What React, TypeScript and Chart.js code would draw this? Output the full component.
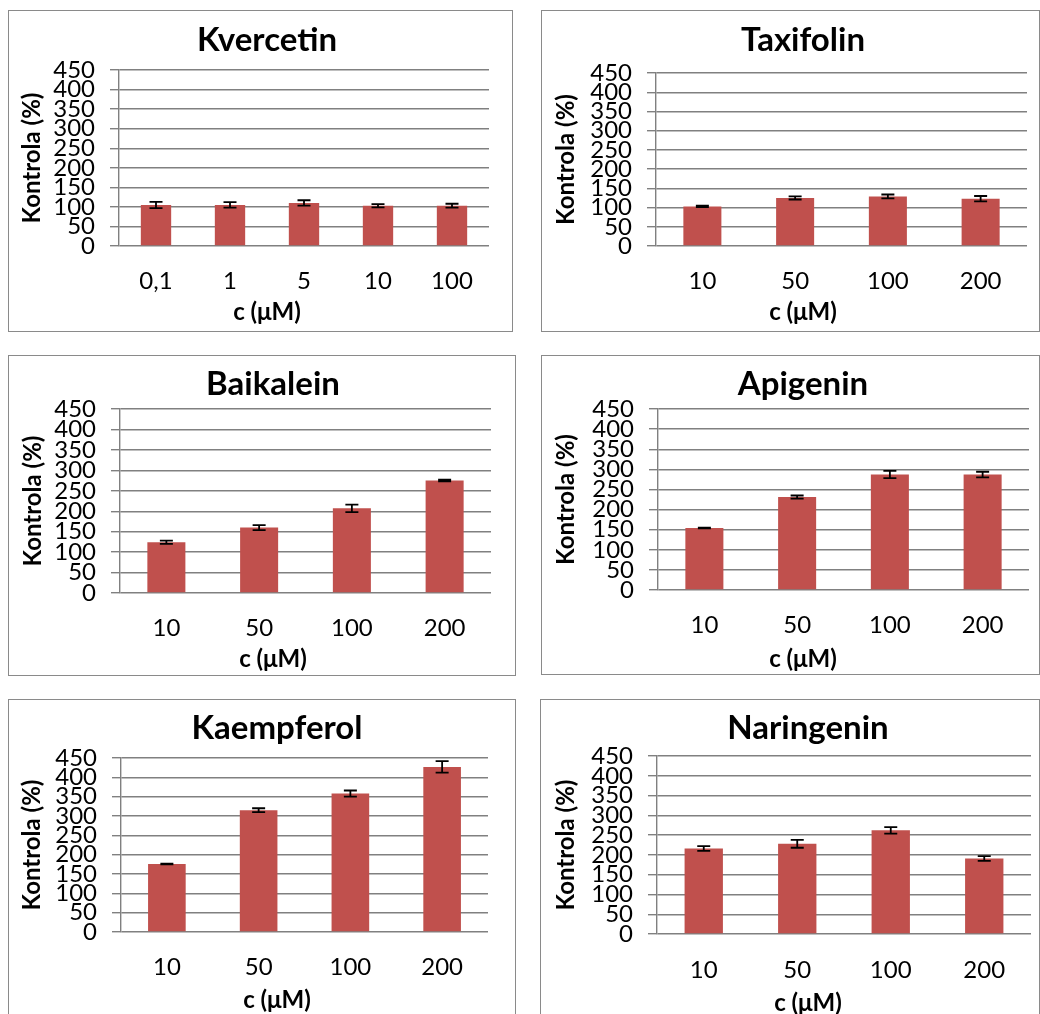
import React, { useEffect, useRef } from 'react';
import { Chart, registerables } from 'chart.js';

Chart.register(...registerables);

// ---------- data ----------
const yMin = 0;
const yMax = 450;
const yStep = 50;
const xAxisTitle = 'c (μM)';
const yAxisTitle = 'Kontrola (%)';

const kvercetinCategories = ['0,1', '1', '5', '10', '100'];
const kvercetinValues = [105, 105, 110, 103, 103];
const kvercetinErrors = [8, 7, 7, 4, 5];

const concCategories = ['10', '50', '100', '200'];

const taxifolinValues = [103, 125, 129, 123];
const taxifolinErrors = [2, 4, 5, 7];

const baikaleinValues = [124, 160, 207, 275];
const baikaleinErrors = [4, 6, 9, 2];

const apigeninValues = [154, 231, 287, 287];
const apigeninErrors = [1, 4, 9, 7];

const kaempferolValues = [176, 315, 358, 427];
const kaempferolErrors = [1, 5, 8, 15];

const naringeninValues = [216, 228, 262, 191];
const naringeninErrors = [6, 10, 8, 6];

// ---------- styles / layout ----------
const FONT = 'Lato, "Open Sans", sans-serif';
const TITLE_SIZE = 33;
const TICK_SIZE = 24;
const AXIS_SIZE = 24;
const LH = 1.2;
const LH_T = TITLE_SIZE * LH;
const LH_TICK = TICK_SIZE * LH;
const LH_AX = AXIS_SIZE * LH;
const BAR_COLOR = '#C0504D';
const GRID_COLOR = '#808080';
const BORDER_COLOR = '#8a8a8a';

type Layout = {
  box: number[]; // L, T, R, B (outer border)
  area: number[]; // L, T, R, B (chart area)
  titleX: number;
  titleY: number;
  yTitleX: number;
  tickY: number;
  xTitleY: number;
};

const layouts: Layout[] = [
  { box: [8, 10, 512, 331], area: [119, 70, 489, 246], titleX: 267, titleY: 40, yTitleX: 32, tickY: 281, xTitleY: 312 },
  { box: [541, 10, 1039, 331], area: [656, 73, 1027, 246], titleX: 803, titleY: 40, yTitleX: 566, tickY: 281, xTitleY: 312 },
  { box: [8, 355, 515, 675], area: [120, 409, 491, 593], titleX: 273, titleY: 384, yTitleX: 33, tickY: 628, xTitleY: 659 },
  { box: [541, 355, 1039, 674], area: [658, 409, 1029, 590], titleX: 803, titleY: 384, yTitleX: 566, tickY: 625, xTitleY: 659 },
  { box: [8, 699, 515, 1100], area: [121, 758, 488, 932], titleX: 277, titleY: 728, yTitleX: 32, tickY: 967, xTitleY: 1000 },
  { box: [540, 699, 1039, 1100], area: [657, 756, 1031, 934], titleX: 808, titleY: 728, yTitleX: 566, tickY: 970, xTitleY: 1003 },
];

const panels = [
  { title: 'Kvercetin', categories: kvercetinCategories, values: kvercetinValues, errors: kvercetinErrors },
  { title: 'Taxifolin', categories: concCategories, values: taxifolinValues, errors: taxifolinErrors },
  { title: 'Baikalein', categories: concCategories, values: baikaleinValues, errors: baikaleinErrors },
  { title: 'Apigenin', categories: concCategories, values: apigeninValues, errors: apigeninErrors },
  { title: 'Kaempferol', categories: concCategories, values: kaempferolValues, errors: kaempferolErrors },
  { title: 'Naringenin', categories: concCategories, values: naringeninValues, errors: naringeninErrors },
];

type Panel = typeof panels[number];

function BarPanel({ p, g }: { p: Panel; g: Layout }) {
  const ref = useRef<HTMLCanvasElement>(null);
  const cL = g.box[0] + 2;
  const cT = g.box[1] + 1;
  const cw = Math.round(2 * (g.titleX - cL));
  const ch = Math.ceil(g.xTitleY - cT + LH_AX / 2);

  useEffect(() => {
    if (!ref.current) return;
    const titlePadTop = g.titleY - cT - LH_T / 2;
    const titlePadBottom = g.area[1] - cT - titlePadTop - LH_T;
    const subPadBottom = ch - (g.xTitleY - cT + LH_AX / 2);
    const xAxisHeight = ch - subPadBottom - LH_AX - (g.area[3] - cT);
    const yAxisWidth = g.area[0] - cL;
    const rightGap = cw - (g.area[2] - cL);

    const errorBars = {
      id: 'errorBars',
      afterDatasetsDraw(chart: any) {
        const ctx = chart.ctx;
        const y = chart.scales.y;
        const meta = chart.getDatasetMeta(0);
        ctx.save();
        ctx.strokeStyle = '#000';
        ctx.lineWidth = 1.8;
        meta.data.forEach((bar: any, i: number) => {
          const v = p.values[i];
          const e = p.errors[i];
          const yt = y.getPixelForValue(v + e);
          const yb = y.getPixelForValue(v - e);
          const x = bar.x;
          ctx.beginPath();
          ctx.moveTo(x, yt);
          ctx.lineTo(x, yb);
          ctx.moveTo(x - 6.5, yt);
          ctx.lineTo(x + 6.5, yt);
          ctx.moveTo(x - 6.5, yb);
          ctx.lineTo(x + 6.5, yb);
          ctx.stroke();
        });
        ctx.restore();
      },
    };

    const chart = new Chart(ref.current, {
      type: 'bar',
      data: {
        labels: p.categories,
        datasets: [
          {
            data: p.values,
            backgroundColor: BAR_COLOR,
            barPercentage: 0.41,
            categoryPercentage: 1,
            yAxisID: 'y',
          },
        ],
      },
      options: {
        animation: false,
        responsive: false,
        devicePixelRatio: 1,
        layout: { padding: 0 },
        plugins: {
          legend: { display: false },
          tooltip: { enabled: false },
          title: {
            display: true,
            text: p.title,
            color: '#000',
            font: { family: FONT, size: TITLE_SIZE, weight: 'bold', lineHeight: LH },
            padding: { top: titlePadTop, bottom: titlePadBottom },
          },
          subtitle: {
            display: true,
            text: xAxisTitle,
            position: 'bottom',
            color: '#000',
            font: { family: FONT, size: AXIS_SIZE, weight: 'bold', lineHeight: LH },
            padding: { top: 0, bottom: subPadBottom },
          },
        },
        scales: {
          x: {
            type: 'category',
            offset: true,
            grid: { display: false, drawTicks: false },
            border: { display: false },
            ticks: {
              color: '#000',
              font: { family: FONT, size: TICK_SIZE, lineHeight: LH },
              padding: g.tickY - g.area[3] - LH_TICK / 2,
              autoSkip: false,
              maxRotation: 0,
            },
            afterFit(s: any) {
              s.height = xAxisHeight;
              s.paddingLeft = 0;
              s.paddingRight = 0;
            },
          },
          y: {
            position: 'left',
            min: yMin,
            max: yMax,
            ticks: {
              stepSize: yStep,
              autoSkip: false,
              color: '#000',
              font: { family: FONT, size: TICK_SIZE, lineHeight: LH },
              padding: 15,
            },
            grid: { color: GRID_COLOR, lineWidth: 1.4, tickLength: 9, drawTicks: true },
            border: { color: GRID_COLOR, width: 1.4 },
            title: {
              display: true,
              text: yAxisTitle,
              color: '#000',
              font: { family: FONT, size: AXIS_SIZE, weight: 'bold', lineHeight: LH },
              padding: { top: g.yTitleX - cL - LH_AX / 2, bottom: 0 },
            },
            afterFit(s: any) {
              s.width = yAxisWidth;
            },
          },
          spacer: {
            type: 'linear',
            position: 'right',
            display: true,
            grid: { display: false, drawTicks: false },
            border: { display: false },
            ticks: { display: false },
            afterFit(s: any) {
              s.width = rightGap;
              s.paddingTop = 0;
              s.paddingBottom = 0;
            },
          },
        },
      },
      plugins: [errorBars],
    } as any);
    return () => chart.destroy();
  }, []);

  return (
    <canvas
      ref={ref}
      width={cw}
      height={ch}
      style={{ position: 'absolute', left: cL, top: cT, width: cw, height: ch }}
    />
  );
}

export default function App() {
  return (
    <div
      style={{
        position: 'absolute',
        left: 0,
        top: 0,
        width: 1040,
        height: 1014,
        overflow: 'hidden',
        background: '#fff',
      }}
    >
      {layouts.map((g, i) => (
        <div
          key={'b' + i}
          style={{
            position: 'absolute',
            left: g.box[0],
            top: g.box[1],
            width: g.box[2] - g.box[0] + 1,
            height: g.box[3] - g.box[1] + 1,
            boxSizing: 'border-box',
            border: `1px solid ${BORDER_COLOR}`,
            background: '#fff',
          }}
        />
      ))}
      {panels.map((p, i) => (
        <BarPanel key={p.title} p={p} g={layouts[i]} />
      ))}
    </div>
  );
}
